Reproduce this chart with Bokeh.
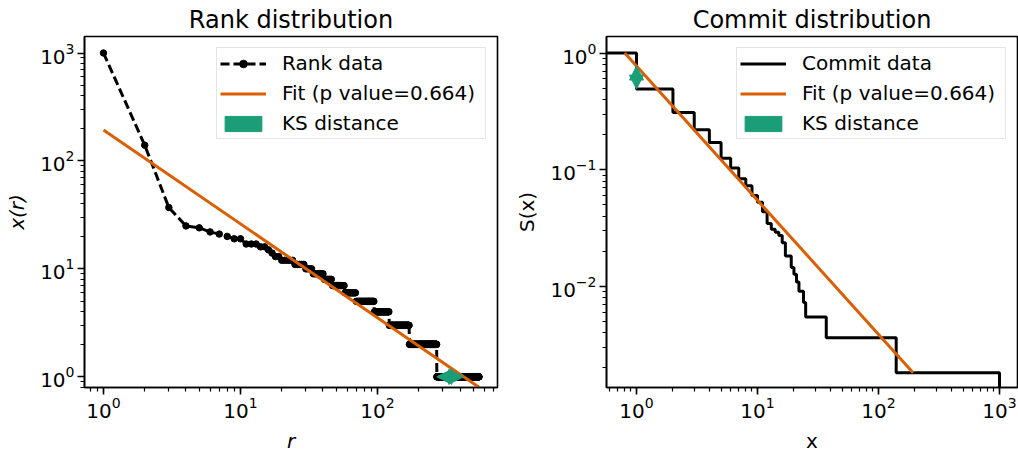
import numpy as np
from bokeh.plotting import figure
from bokeh.layouts import row
from bokeh.models import Range1d, Legend, LegendItem, Arrow, NormalHead
from bokeh.embed import file_html
from bokeh.resources import INLINE

# Commits per contributor: distinct commit totals and how many contributors have each
commit_values = [1000, 140, 37, 25, 24, 22, 21, 20, 19, 17, 16, 15, 14, 13,
                 12, 11, 10, 9, 8, 7, 6, 5, 4, 3, 2, 1]
contributor_counts = [1, 1, 1, 1, 1, 1, 1, 1, 2, 3, 2, 1, 1, 2,
                      5, 5, 4, 7, 6, 11, 12, 25, 27, 49, 100, 280]

# Power-law fit
FIT_XMIN = 0.8
FIT_ALPHA = 2.15
FIT_PVALUE = 0.664

BLACK = "#000000"
ORANGE = "#d95f02"
GREEN = "#1b9e77"
FONT = "DejaVu Sans"

# Rank data (descending)
commits = np.repeat(np.array(commit_values, dtype=float), contributor_counts)
n = len(commits)
ranks = np.arange(1, n + 1, dtype=float)

# Empirical survival function S(x) = P(X > x)
uniq = np.unique(commits)
surv = np.array([(commits > u).sum() / n for u in uniq])
S_FLOOR = 1e-4  # stands in for S = 0 on the log axis
step_x = np.concatenate([[0.5], uniq])
step_y = np.concatenate([[1.0], np.where(surv > 0, surv, S_FLOOR)])

# Fit lines
expo = FIT_ALPHA - 1.0
fit_r = np.array([1.0, n])
fit_rank_vals = FIT_XMIN * (fit_r / n) ** (-1.0 / expo)
fit_x = np.array([FIT_XMIN, FIT_XMIN * n ** (1.0 / expo)])
fit_s = (fit_x / FIT_XMIN) ** (-expo)

# KS distance markers
ks_r_data = float((commits > 1).sum() + 1)
ks_r_fit = n * (1.0 / FIT_XMIN) ** (-expo)
ks_s_data = float((commits > 1).sum() / n)
ks_s_fit = (1.0 / FIT_XMIN) ** (-expo)

fit_label = f"Fit (p value={FIT_PVALUE})"


def make_fig(title, xr, yr, border_left, border_right, width):
    p = figure(width=width, height=455, x_axis_type="log", y_axis_type="log",
               x_range=Range1d(*xr), y_range=Range1d(*yr),
               output_backend="svg", toolbar_location=None, title=title,
               min_border_left=border_left, min_border_right=border_right,
               min_border_top=35, min_border_bottom=59)
    p.grid.visible = False
    p.outline_line_color = BLACK
    p.outline_line_width = 1.6
    p.background_fill_color = "white"
    p.border_fill_color = "white"
    p.title.align = "center"
    p.title.text_font = FONT
    p.title.text_font_size = "24px"
    p.title.text_font_style = "normal"
    p.title.text_color = BLACK
    p.title.standoff = 6
    for ax in (p.xaxis[0], p.yaxis[0]):
        ax.major_label_text_font = FONT
        ax.major_label_text_font_size = "20px"
        ax.major_label_text_color = BLACK
        ax.axis_label_text_font = FONT
        ax.axis_label_text_font_size = "20px"
        ax.axis_label_text_color = BLACK
        ax.axis_label_text_font_style = "normal"
        ax.axis_line_color = BLACK
        ax.axis_line_width = 1.6
        ax.major_tick_in = 0
        ax.major_tick_out = 7
        ax.minor_tick_in = 0
        ax.minor_tick_out = 4
        ax.major_tick_line_width = 1.6
        ax.minor_tick_line_width = 1.2
        ax.major_tick_line_color = BLACK
        ax.minor_tick_line_color = BLACK
    p.xaxis[0].major_label_standoff = 2
    p.yaxis[0].major_label_standoff = 3
    p.xaxis[0].axis_label_standoff = 8
    p.yaxis[0].axis_label_standoff = 8
    return p


def style_legend(p, items):
    leg = Legend(items=items, location="top_right")
    leg.label_text_font = FONT
    leg.label_text_font_size = "20px"
    leg.label_text_color = BLACK
    leg.glyph_width = 46
    leg.glyph_height = 19
    leg.label_height = 20
    leg.label_width = 200
    leg.label_standoff = 16
    leg.padding = 3
    leg.spacing = 6
    leg.margin = 11
    leg.border_line_color = "#cccccc"
    leg.border_line_width = 1.5
    leg.background_fill_color = "white"
    leg.background_fill_alpha = 0.8
    p.add_layout(leg)


def ks_arrow(x0, y0, x1, y1, head):
    return Arrow(x_start=x0, y_start=y0, x_end=x1, y_end=y1,
                 line_color=GREEN, line_width=7,
                 start=NormalHead(size=head, fill_color=GREEN, line_color=GREEN, line_width=1),
                 end=NormalHead(size=head, fill_color=GREEN, line_color=GREEN, line_width=1))


# Legend key for the KS arrow: a filled box (one row with no position, so
# only the legend swatch is drawn)
NO_POS = [np.nan]

# ---- Rank distribution ----
p1 = make_fig("Rank distribution", (0.727, 751), (0.796, 1422), 84, 12, 509)
p1.xaxis[0].axis_label = "r"
p1.yaxis[0].axis_label = "x(r)"
p1.xaxis[0].axis_label_text_font_style = "italic"
p1.yaxis[0].axis_label_text_font_style = "italic"

rank_line = p1.line(ranks, commits, line_color=BLACK, line_width=3, line_dash="9 4")
rank_dots = p1.scatter(ranks, commits, size=6.5, fill_color=BLACK, line_color=BLACK)
fit1 = p1.line(fit_r, fit_rank_vals, line_color=ORANGE, line_width=3)
ks1_key = p1.quad(left=NO_POS, right=NO_POS, top=NO_POS, bottom=NO_POS,
                  fill_color=GREEN, line_color=GREEN)
p1.add_layout(ks_arrow(ks_r_data, 1.0, ks_r_fit, 1.0, 15))
style_legend(p1, [LegendItem(label="Rank data", renderers=[rank_line, rank_dots]),
                  LegendItem(label=fit_label, renderers=[fit1]),
                  LegendItem(label="KS distance", renderers=[ks1_key])])

# ---- Commit distribution ----
p2 = make_fig("Commit distribution", (0.565, 1408), (0.00136, 1.386), 97, 1, 509)
p2.xaxis[0].axis_label = "x"
p2.yaxis[0].axis_label = "S(x)"

commit_step = p2.step(step_x, step_y, mode="after", line_color=BLACK, line_width=3)
fit2 = p2.line(fit_x, fit_s, line_color=ORANGE, line_width=3)
ks2_key = p2.quad(left=NO_POS, right=NO_POS, top=NO_POS, bottom=NO_POS,
                  fill_color=GREEN, line_color=GREEN)
p2.add_layout(ks_arrow(1.0, ks_s_data, 1.0, ks_s_fit, 14))
style_legend(p2, [LegendItem(label="Commit data", renderers=[commit_step]),
                  LegendItem(label=fit_label, renderers=[fit2]),
                  LegendItem(label="KS distance", renderers=[ks2_key])])

layout = row(p1, p2)
open("out.html", "w").write(file_html(layout, INLINE))
